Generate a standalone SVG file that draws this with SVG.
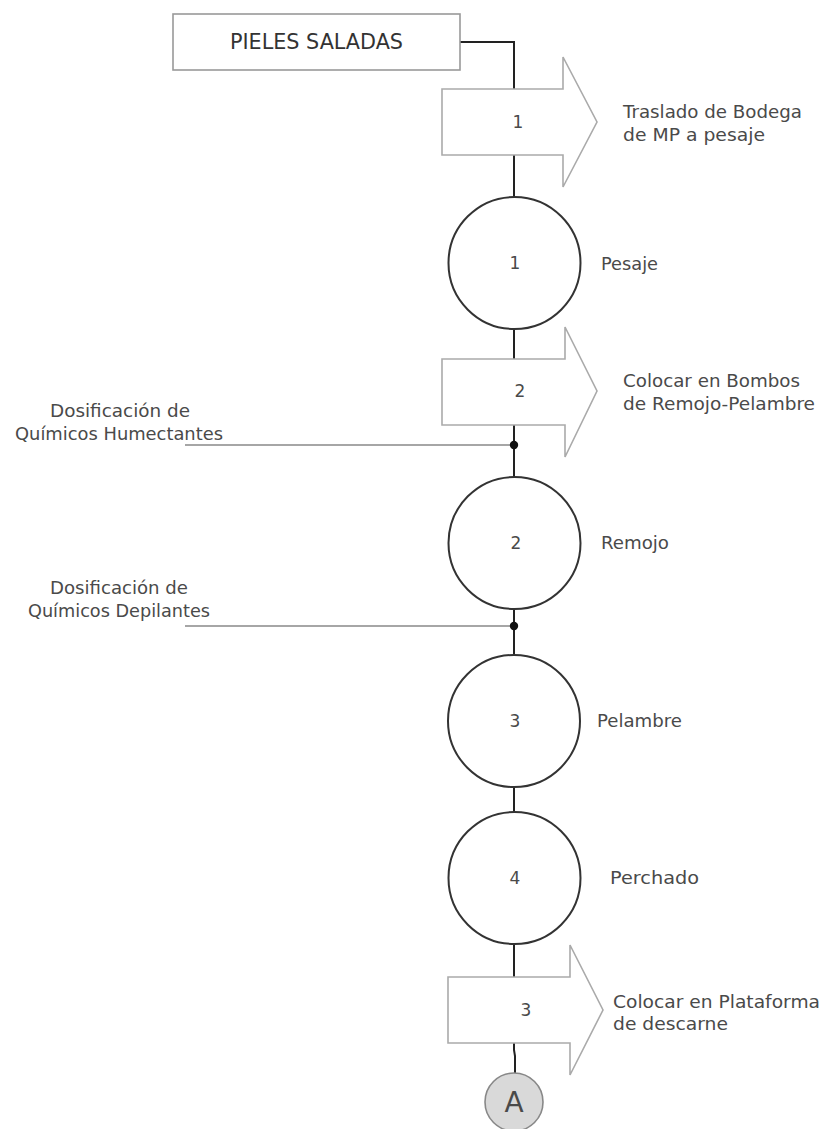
<svg xmlns="http://www.w3.org/2000/svg" width="826" height="1129" viewBox="0 0 826 1129">
  <style>
    text { font-family: "DejaVu Sans", "Liberation Sans", sans-serif; fill: #4a4a4a; }
    .lbl { font-size: 17.5px; }
    .num { font-size: 17px; text-anchor: middle; }
    .title { font-size: 21px; fill: #333; }
    .flow { fill: none; stroke: #222; stroke-width: 2; }
    .feed { fill: none; stroke: #888; stroke-width: 1.6; }
    .op { fill: #fff; stroke: #333; stroke-width: 2; }
    .move { fill: #fff; stroke: #aaa; stroke-width: 1.6; stroke-linejoin: miter; }
    .box { fill: #fff; stroke: #999; stroke-width: 1.6; }
    .dot { fill: #111; }
  </style>

  <!-- connectors along the main process line and the chemical feeds -->
  <g id="connectors">
    <polyline class="flow" points="460,42 514,42 514,89"/>
    <line class="flow" x1="514" y1="155" x2="514" y2="197"/>
    <line class="flow" x1="514" y1="329" x2="514" y2="359"/>
    <line class="flow" x1="514" y1="425" x2="514" y2="477"/>
    <line class="flow" x1="514" y1="609" x2="514" y2="655"/>
    <line class="flow" x1="514" y1="787" x2="514" y2="812"/>
    <line class="flow" x1="514" y1="944" x2="514" y2="977"/>
    <polyline class="flow" points="514,1043 514,1050 515,1056 515,1073"/>
    <line class="feed" x1="185" y1="445" x2="514" y2="445"/>
    <line class="feed" x1="185" y1="626" x2="514" y2="626"/>
    <circle class="dot" cx="514" cy="445" r="4.2"/>
    <circle class="dot" cx="514" cy="626" r="4.2"/>
  </g>

  <g id="start">
    <rect class="box" x="173" y="14" width="287" height="56"/>
    <text class="title" x="230" y="49" textLength="173" lengthAdjust="spacingAndGlyphs">PIELES SALADAS</text>
  </g>

  <g id="transport-1">
    <polygon class="move" points="442,89 563,89 563,57 597,122 563,187 563,155 442,155"/>
    <text class="num" x="518" y="128">1</text>
    <text class="lbl" x="623" y="118" textLength="179" lengthAdjust="spacingAndGlyphs">Traslado de Bodega</text>
    <text class="lbl" x="623" y="141" textLength="142" lengthAdjust="spacingAndGlyphs">de MP a pesaje</text>
  </g>

  <g id="operation-1">
    <circle class="op" cx="514.5" cy="263" r="66"/>
    <text class="num" x="515" y="269">1</text>
    <text class="lbl" x="601" y="270" textLength="57" lengthAdjust="spacingAndGlyphs">Pesaje</text>
  </g>

  <g id="transport-2">
    <polygon class="move" points="442,359 565,359 565,327 597,391 565,457 565,425 442,425"/>
    <text class="num" x="520" y="397">2</text>
    <text class="lbl" x="623" y="387" textLength="177" lengthAdjust="spacingAndGlyphs">Colocar en Bombos</text>
    <text class="lbl" x="623" y="410" textLength="192" lengthAdjust="spacingAndGlyphs">de Remojo-Pelambre</text>
  </g>

  <g id="feed-humectantes">
    <text class="lbl" x="50" y="417" textLength="140" lengthAdjust="spacingAndGlyphs">Dosificación de</text>
    <text class="lbl" x="15" y="440" textLength="208" lengthAdjust="spacingAndGlyphs">Químicos Humectantes</text>
  </g>

  <g id="operation-2">
    <circle class="op" cx="514.5" cy="543" r="66"/>
    <text class="num" x="516" y="549">2</text>
    <text class="lbl" x="601" y="549" textLength="68" lengthAdjust="spacingAndGlyphs">Remojo</text>
  </g>

  <g id="feed-depilantes">
    <text class="lbl" x="50" y="594" textLength="138" lengthAdjust="spacingAndGlyphs">Dosificación de</text>
    <text class="lbl" x="28" y="617" textLength="182" lengthAdjust="spacingAndGlyphs">Químicos Depilantes</text>
  </g>

  <g id="operation-3">
    <circle class="op" cx="514" cy="721" r="66"/>
    <text class="num" x="515" y="727">3</text>
    <text class="lbl" x="597" y="727" textLength="85" lengthAdjust="spacingAndGlyphs">Pelambre</text>
  </g>

  <g id="operation-4">
    <circle class="op" cx="514.5" cy="878" r="66"/>
    <text class="num" x="515" y="884">4</text>
    <text class="lbl" x="610" y="884" textLength="89" lengthAdjust="spacingAndGlyphs">Perchado</text>
  </g>

  <g id="transport-3">
    <polygon class="move" points="448,977 570,977 570,945 603,1010 570,1075 570,1043 448,1043"/>
    <text class="num" x="526" y="1016">3</text>
    <text class="lbl" x="613" y="1008" textLength="207" lengthAdjust="spacingAndGlyphs">Colocar en Plataforma</text>
    <text class="lbl" x="613" y="1030" textLength="115" lengthAdjust="spacingAndGlyphs">de descarne</text>
  </g>

  <g id="connector-A">
    <circle cx="514" cy="1102" r="29" fill="#d9d9d9" stroke="#888" stroke-width="1.6"/>
    <text x="514" y="1112" font-size="28" text-anchor="middle" fill="#111">A</text>
  </g>
</svg>
